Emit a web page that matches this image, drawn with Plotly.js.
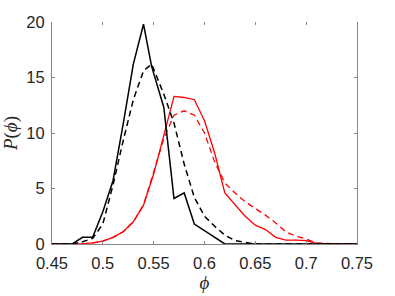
<!DOCTYPE html>
<html>
<head>
<meta charset="utf-8">
<script src="https://cdn.plot.ly/plotly-3.0.1.min.js"></script>
<style>html,body{margin:0;padding:0;background:#fff;}#chart{width:395px;height:296px;}</style>
</head>
<body>
<div id="chart"></div>
<script>
// Black solid
var blackSolidX = [0.45, 0.47, 0.48, 0.49, 0.50, 0.51, 0.52, 0.53, 0.54, 0.548, 0.56, 0.57, 0.58, 0.59, 0.62, 0.75];
var blackSolidY = [0, 0, 0.6, 0.6, 2.9, 5.7, 10.8, 16.2, 19.8, 16.0, 12.3, 4.1, 4.6, 1.8, 0, 0];
// Black dashed
var blackDashX = [0.45, 0.47, 0.48, 0.49, 0.50, 0.51, 0.52, 0.53, 0.54, 0.548, 0.56, 0.57, 0.58, 0.59, 0.60, 0.61, 0.62, 0.63, 0.65, 0.75];
var blackDashY = [0, 0, 0.2, 0.5, 1.8, 5.3, 9.3, 13.0, 15.6, 16.2, 13.5, 10.9, 7.2, 4.2, 2.5, 1.6, 0.8, 0.3, 0, 0];
// Red solid
var redSolidX = [0.45, 0.47, 0.48, 0.49, 0.50, 0.51, 0.52, 0.53, 0.54, 0.55, 0.56, 0.57, 0.58, 0.59, 0.60, 0.61, 0.62, 0.63, 0.64, 0.65, 0.66, 0.67, 0.68, 0.69, 0.70, 0.71, 0.75];
var redSolidY = [0, 0, 0.02, 0.1, 0.25, 0.6, 1.1, 2.0, 3.5, 6.3, 9.8, 13.3, 13.2, 13.0, 11.1, 8.2, 4.6, 3.5, 2.5, 1.7, 1.3, 0.6, 0.35, 0.35, 0.3, 0.05, 0];
// Red dashed
var redDashX = [0.45, 0.47, 0.48, 0.49, 0.50, 0.51, 0.52, 0.53, 0.54, 0.55, 0.56, 0.57, 0.58, 0.59, 0.60, 0.61, 0.62, 0.63, 0.64, 0.65, 0.66, 0.67, 0.68, 0.69, 0.70, 0.71, 0.72, 0.75];
var redDashY = [0, 0, 0.02, 0.1, 0.25, 0.6, 1.1, 2.0, 3.5, 6.5, 9.5, 11.6, 12.0, 11.6, 10.0, 7.4, 5.5, 4.6, 3.8, 3.2, 2.6, 1.9, 1.1, 0.7, 0.45, 0.1, 0.05, 0];

var xTicks = [0.45, 0.5, 0.55, 0.6, 0.65, 0.7, 0.75];
var xTickText = ['0.45', '0.5', '0.55', '0.6', '0.65', '0.7', '0.75'];
var yTicks = [0, 5, 10, 15, 20];

var traces = [
  {x: redDashX, y: redDashY, mode: 'lines', line: {color: '#ff0000', width: 1.3, dash: '6px,4px'}},
  {x: redSolidX, y: redSolidY, mode: 'lines', line: {color: '#ff0000', width: 1.3}},
  {x: blackDashX, y: blackDashY, mode: 'lines', line: {color: '#000000', width: 1.5, dash: '6px,4px'}},
  {x: blackSolidX, y: blackSolidY, mode: 'lines', line: {color: '#000000', width: 1.5}},
  {x: [null], y: [null], xaxis: 'x2', mode: 'lines', showlegend: false, hoverinfo: 'skip'}
];

var tickFont = {family: 'Liberation Sans, Arial, sans-serif', size: 16.5, color: '#262626'};
var layout = {
  width: 395, height: 296,
  margin: {l: 52, r: 38, t: 22, b: 52},
  paper_bgcolor: '#ffffff', plot_bgcolor: '#ffffff',
  showlegend: false,
  xaxis: {
    range: [0.45, 0.75], tickvals: xTicks, ticktext: xTickText,
    ticks: 'inside', ticklen: 3, tickcolor: '#888888', tickwidth: 1,
    showline: true, linecolor: '#888888', linewidth: 1, mirror: false,
    showgrid: false, zeroline: false, tickfont: tickFont, ticklabelstandoff: 4,
    title: {text: '\u03d5', font: {family: 'Liberation Serif, serif', size: 19, color: '#262626', style: 'italic'}, standoff: 4}
  },
  xaxis2: {
    range: [0.45, 0.75], overlaying: 'x', side: 'top', tickvals: xTicks,
    ticks: 'inside', ticklen: 3, tickcolor: '#888888', tickwidth: 1,
    showline: false, showgrid: false, zeroline: false, showticklabels: false
  },
  yaxis: {
    range: [0, 20], tickvals: yTicks,
    ticks: 'inside', ticklen: 3, tickcolor: '#888888', tickwidth: 1,
    showline: true, linecolor: '#888888', linewidth: 1, mirror: 'ticks',
    showgrid: false, zeroline: false, tickfont: tickFont, ticklabelstandoff: 3,
    title: {text: '<i>P</i>(<i>\u03d5</i>)', font: {family: 'Liberation Serif, serif', size: 19, color: '#262626'}, standoff: 4}
  }
};
Plotly.newPlot('chart', traces, layout, {staticPlot: true, displayModeBar: false});
</script>
</body>
</html>
